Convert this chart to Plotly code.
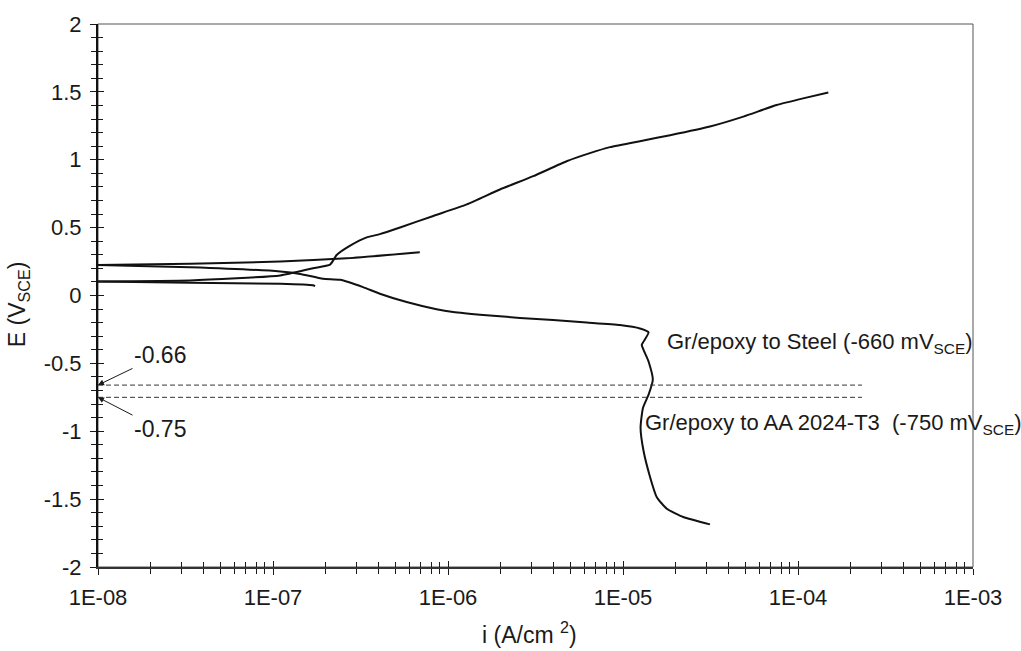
import plotly.graph_objects as go

# Polarization curves, current density (A/cm^2) vs potential (V_SCE)
# Short anodic scan starting near +0.22 V
a_i = [1.0e-8, 3.36e-8, 1.10e-7, 2.64e-7, 6.9e-7]
a_E = [0.225, 0.233, 0.250, 0.274, 0.318]

# Cathodic branch running down to -1.69 V
b_i = [1.0e-8, 3.36e-8, 1.10e-7, 1.43e-7, 1.93e-7, 2.42e-7, 3.27e-7, 4.08e-7,
       5.8e-7, 8.6e-7, 1.07e-6, 1.66e-6, 2.58e-6, 3.99e-6, 6.2e-6, 9.6e-6,
       1.25e-5, 1.40e-5, 1.31e-5, 1.28e-5, 1.40e-5, 1.48e-5, 1.40e-5, 1.30e-5,
       1.26e-5, 1.31e-5, 1.43e-5, 1.56e-5, 1.78e-5, 2.21e-5, 3.14e-5]
b_E = [0.225, 0.208, 0.177, 0.159, 0.123, 0.116, 0.062, 0.013,
       -0.048, -0.101, -0.121, -0.145, -0.165, -0.181, -0.199, -0.218,
       -0.243, -0.272, -0.340, -0.364, -0.486, -0.620, -0.730, -0.828,
       -0.974, -1.144, -1.340, -1.486, -1.571, -1.632, -1.686]

# Anodic branch rising to +1.5 V
c_i = [1.0e-8, 3.36e-8, 1.10e-7, 1.69e-7, 2.12e-7, 2.31e-7, 2.76e-7, 3.43e-7,
       4.08e-7, 5.32e-7, 8.24e-7, 1.28e-6, 1.98e-6, 3.07e-6, 4.76e-6, 6.47e-6,
       8.43e-6, 1.31e-5, 1.86e-5, 3.14e-5, 4.87e-5, 7.55e-5, 1.07e-4, 1.49e-4]
c_E = [0.104, 0.111, 0.148, 0.201, 0.228, 0.298, 0.367, 0.428,
       0.452, 0.501, 0.586, 0.671, 0.781, 0.879, 0.989, 1.049,
       1.093, 1.142, 1.181, 1.245, 1.318, 1.403, 1.452, 1.495]

# Short cathodic scan starting near +0.10 V
d_i = [1.0e-8, 3.36e-8, 1.10e-7, 1.69e-7, 1.74e-7]
d_E = [0.104, 0.094, 0.086, 0.075, 0.069]

# Galvanic couple potentials (V_SCE)
couple_E = [-0.66, -0.75]
couple_i = [1.0e-8, 2.32e-4]
couple_labels = ["Gr/epoxy to Steel (-660 mV<sub>SCE</sub>)",
                 "Gr/epoxy to AA 2024-T3&nbsp;&nbsp;(-750 mV<sub>SCE</sub>)"]

x_major = [1e-8, 1e-7, 1e-6, 1e-5, 1e-4, 1e-3]
x_major_text = ["1E-08", "1E-07", "1E-06", "1E-05", "1E-04", "1E-03"]
x_minor = [m * 10.0 ** p for p in range(-8, -3) for m in range(2, 10)]
y_major = [-2, -1.5, -1, -0.5, 0, 0.5, 1, 1.5, 2]
y_major_text = ["-2", "-1.5", "-1", "-0.5", "0", "0.5", "1", "1.5", "2"]
y_minor = [round(-2 + 0.1 * k, 1) for k in range(41)]

FONT = "Liberation Sans, Arial, sans-serif"
INK = "#1a1a1a"

fig = go.Figure()

line_style = dict(color="#111111", width=2, shape="spline", smoothing=0.5)
for xs, ys in [(a_i, a_E), (b_i, b_E), (c_i, c_E), (d_i, d_E)]:
    fig.add_trace(go.Scatter(x=xs, y=ys, mode="lines", line=line_style,
                             showlegend=False, hoverinfo="skip"))

# Dashed couple-potential lines, on the overlaid axes that carry the inner ticks
for e in couple_E:
    fig.add_trace(go.Scatter(x=couple_i, y=[e, e], mode="lines",
                             line=dict(color="#333333", width=1, dash="5px,3px"),
                             xaxis="x2", yaxis="y2", showlegend=False,
                             hoverinfo="skip"))

xrange = [-8, -3]
yrange = [-2, 2]

common_x = dict(type="log", range=xrange, showgrid=False, zeroline=False,
                tickmode="array", tickvals=x_major, ticklen=6, tickwidth=1,
                tickcolor=INK,
                minor=dict(tickmode="array", tickvals=x_minor, ticklen=5,
                           tickwidth=1, tickcolor=INK))
common_y = dict(range=yrange, showgrid=False, zeroline=False,
                tickmode="array", tickvals=y_major, ticklen=6, tickwidth=1,
                tickcolor=INK,
                minor=dict(tickmode="array", tickvals=y_minor, ticklen=5,
                           tickwidth=1, tickcolor=INK))

fig.update_layout(
    width=1021, height=651,
    margin=dict(l=98, r=48, t=20, b=84),
    paper_bgcolor="white", plot_bgcolor="white",
    font=dict(family=FONT, color=INK, size=22),
    xaxis=dict(**common_x, ticks="outside", ticktext=x_major_text,
               showline=True, linecolor="#333333", linewidth=1.5,
               tickfont=dict(size=22, color=INK), ticklabelstandoff=4,
               minor_ticks="outside"),
    yaxis=dict(**common_y, ticks="outside", ticktext=y_major_text,
               showline=True, linecolor="#111111", linewidth=2,
               tickfont=dict(size=22, color=INK), ticklabelstandoff=4,
               minor_ticks="outside"),
    xaxis2=dict(**common_x, ticks="inside", overlaying="x", anchor="y2",
                showticklabels=False, showline=False, minor_ticks="inside"),
    yaxis2=dict(**common_y, ticks="inside", overlaying="y", anchor="x2",
                showticklabels=False, showline=False, minor_ticks="inside"),
)

# Plot frame (top and right edges)
fig.add_shape(type="rect", xref="paper", yref="paper", x0=0, x1=1, y0=0, y1=1,
              line=dict(color="#555555", width=1), layer="below")

# Arrowed potential values at the left axis
for e, ay in zip(couple_E, [-30, 32]):
    fig.add_annotation(x=-8, y=e, xref="x", yref="y", text=f"{e:.2f}",
                       showarrow=True, arrowhead=2, arrowsize=1.2, arrowwidth=1,
                       arrowcolor=INK, ax=62, ay=ay,
                       font=dict(size=23, color=INK))

# Couple labels
fig.add_annotation(x=-4.76, y=-0.347, xref="x", yref="y", text=couple_labels[0],
                   showarrow=False, xanchor="left", yanchor="middle",
                   font=dict(size=22, color=INK))
fig.add_annotation(x=-4.885, y=-0.947, xref="x", yref="y", text=couple_labels[1],
                   showarrow=False, xanchor="left", yanchor="middle",
                   font=dict(size=22, color=INK))

# Axis titles
fig.add_annotation(x=0, y=0.484, xref="paper", yref="paper",
                   text="E (V<sub>SCE</sub>)", textangle=-90, showarrow=False,
                   xanchor="center", yanchor="middle", xshift=-80,
                   font=dict(size=23, color=INK))
fig.add_annotation(x=0.4926, y=0, xref="paper", yref="paper",
                   text="i (A/cm <sup>2</sup>)", showarrow=False,
                   xanchor="center", yanchor="middle", yshift=-66,
                   font=dict(size=23, color=INK))

fig.write_html("out.html")
